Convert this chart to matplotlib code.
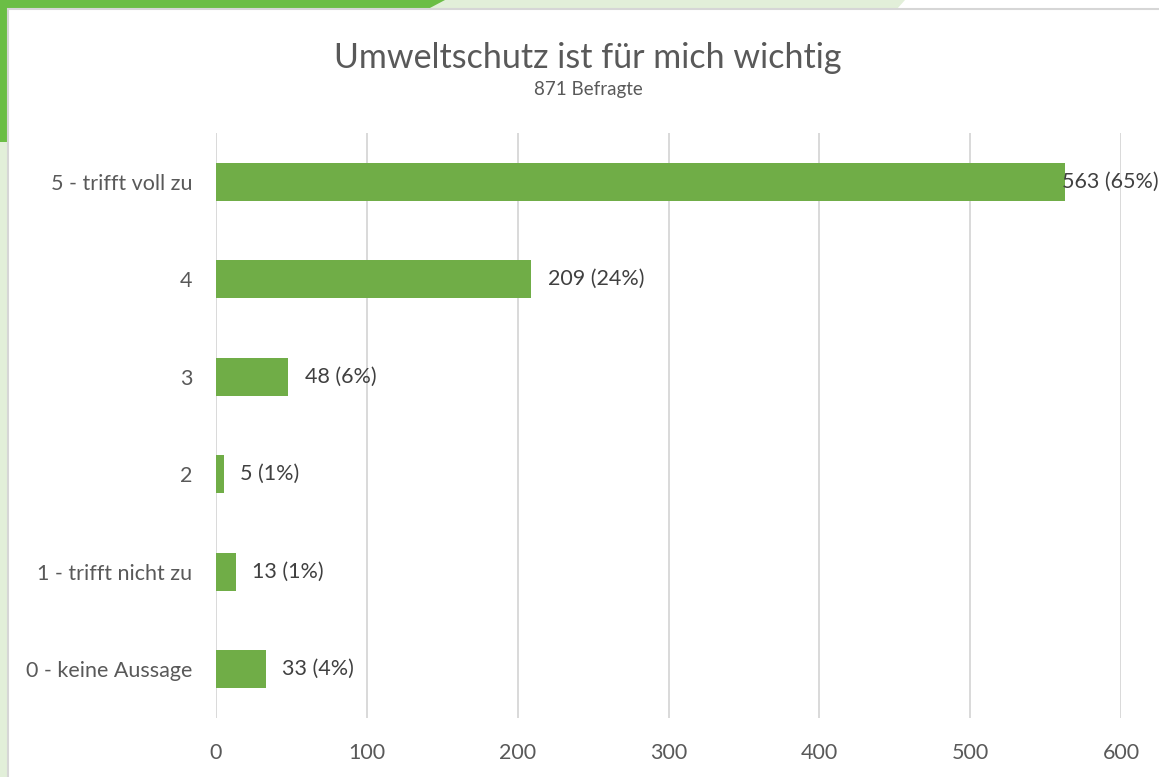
import matplotlib
matplotlib.use("Agg")
import matplotlib.pyplot as plt
from matplotlib.patches import Polygon, Rectangle

categories = ["5 - trifft voll zu", "4", "3", "2", "1 - trifft nicht zu", "0 - keine Aussage"]
values = [563, 209, 48, 5, 13, 33]
total = 871
percent_labels = ["65%", "24%", "6%", "1%", "1%", "4%"]
xticks = [0, 100, 200, 300, 400, 500, 600]

W, H = 1159, 777
plt.rcParams['font.family'] = ['Lato', 'DejaVu Sans']
fig = plt.figure(figsize=(W / 100, H / 100), dpi=100)
fig.patch.set_facecolor("white")

def px(x, y):
    return (x / W, 1 - y / H)

# background decoration
pale = "#E2EFD9"
green = "#6BBE45"
fig.patches.append(Polygon([px(0, 0), px(905, 0), px(897, 9), px(0, 9)], closed=True,
                           transform=fig.transFigure, facecolor=pale, edgecolor="none", zorder=0))
fig.patches.append(Polygon([px(0, 0), px(445, 0), px(428, 9), px(0, 9)], closed=True,
                           transform=fig.transFigure, facecolor=green, edgecolor="none", zorder=1))
fig.patches.append(Polygon([px(0, 0), px(8, 0), px(8, H), px(0, H)], closed=True,
                           transform=fig.transFigure, facecolor=pale, edgecolor="none", zorder=1))
fig.patches.append(Polygon([px(0, 0), px(8, 0), px(8, 142), px(0, 142)], closed=True,
                           transform=fig.transFigure, facecolor=green, edgecolor="none", zorder=2))
fig.patches.append(Rectangle(px(8, H + 2), (W - 6) / W, (H - 7) / H,
                             transform=fig.transFigure, facecolor="white", edgecolor="#D6D6D6",
                             linewidth=1.5, zorder=3))

ax = fig.add_axes([216 / W, 1 - 718 / H, (1121 - 216) / W, (718 - 133) / H])
ax.set_zorder(5)
ax.patch.set_alpha(0)

ypos = list(range(len(categories)))
ax.barh(ypos, values, height=0.39, color="#70AD47", zorder=3)
ax.set_ylim(len(categories) - 0.5, -0.5)
ax.set_xlim(0, 600)
ax.set_xticks(xticks)
ax.set_yticks(ypos)
ax.set_yticklabels(categories)
ax.tick_params(axis="both", length=0, labelsize=15.5, labelcolor="#595959")
ax.tick_params(axis="x", pad=18)
ax.tick_params(axis="y", pad=17)
ax.grid(axis="x", color="#D9D9D9", linewidth=1.4, zorder=0)
for s in ax.spines.values():
    s.set_visible(False)

for i, (v, p) in enumerate(zip(values, percent_labels)):
    off = -2 if v > 500 else 12
    ax.annotate(f"{v} ({p})", (v, i), xytext=(off, 0), textcoords="offset points",
                va="center", ha="left", fontsize=15.5, color="#404040", zorder=6,
                annotation_clip=False)

fig.text(588 / W, 1 - 58 / H, "Umweltschutz ist für mich wichtig", ha="center", va="center",
         fontsize=24.5, color="#595959", zorder=6)
fig.text(588 / W, 1 - 90 / H, f"{total} Befragte", ha="center", va="center",
         fontsize=13.5, color="#595959", zorder=6)

fig.savefig("out.png", dpi=100)
